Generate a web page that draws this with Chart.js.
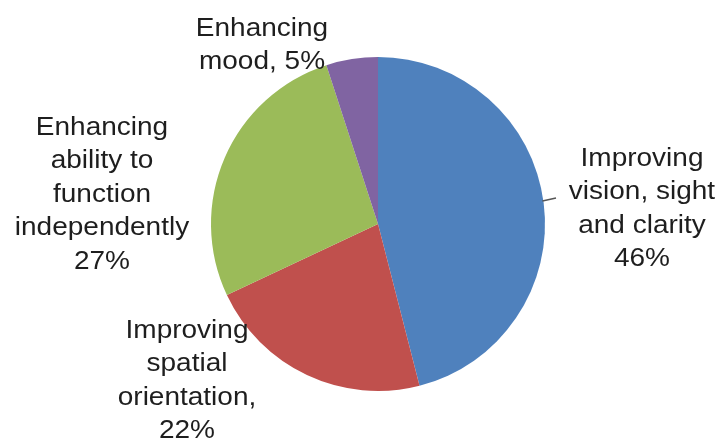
<!DOCTYPE html>
<html>
<head>
<meta charset="utf-8">
<script src="https://cdn.jsdelivr.net/npm/chart.js@4"></script>
<style>
  html, body { margin: 0; padding: 0; background: #fff; }
  #wrap { width: 726px; height: 443px; }
</style>
</head>
<body>
<div id="wrap"><canvas id="pieChart" width="726" height="443"></canvas></div>
<script>
// data
var categories = ["Improving vision, sight and clarity", "Improving spatial orientation", "Enhancing ability to function independently", "Enhancing mood"];
var values = [46, 22, 27, 5];
var colors = ["#4F81BD", "#C0504D", "#9BBB59", "#8064A2"];

// how each label is broken into lines (value gets added after)
var labelWraps = [
    ["Improving", "vision, sight", "and clarity"],
    ["Improving", "spatial", "orientation,"],
    ["Enhancing", "ability to", "function", "independently"],
    ["Enhancing", "mood,"]
];
var valueOnSameLine = [false, false, false, true];

// where the label blocks sit (center x, first line y)
var labelPos = [
    { x: 642, y: 159 },
    { x: 187, y: 331 },
    { x: 102, y: 128 },
    { x: 262, y: 29 }
];

var pieLabels = {
    id: "pieLabels",
    afterDatasetsDraw: function (chart) {
        var ctx = chart.ctx;
        var lineH = 33.5;
        ctx.save();
        ctx.fillStyle = "#1e1e1e";
        ctx.font = "25px 'Liberation Sans', Arial, sans-serif";
        ctx.textAlign = "center";
        ctx.textBaseline = "middle";
        for (var i = 0; i < values.length; i++) {
            var lines = labelWraps[i].slice();
            var pct = values[i] + "%";
            if (valueOnSameLine[i]) {
                lines[lines.length - 1] += " " + pct;
            } else {
                lines.push(pct);
            }
            for (var j = 0; j < lines.length; j++) {
                ctx.save();
                ctx.translate(labelPos[i].x, labelPos[i].y + j * lineH);
                ctx.scale(1.12, 1);
                ctx.fillText(lines[j], 0, 0);
                ctx.restore();
            }
        }
        // short leader line from the blue slice edge to its label
        var arc = chart.getDatasetMeta(0).data[0];
        var sy = 201;
        var dy = sy - arc.y;
        var sx = arc.x + Math.sqrt(arc.outerRadius * arc.outerRadius - dy * dy);
        ctx.strokeStyle = "#555";
        ctx.lineWidth = 1.5;
        ctx.beginPath();
        ctx.moveTo(sx - 1, sy);
        ctx.lineTo(556, 198);
        ctx.stroke();
        ctx.restore();
    }
};

var ctx = document.getElementById("pieChart").getContext("2d");
var pieChart = new Chart(ctx, {
    type: "pie",
    data: {
        labels: categories,
        datasets: [{
            data: values,
            backgroundColor: colors,
            borderWidth: 0
        }]
    },
    options: {
        responsive: false,
        animation: false,
        layout: {
            padding: { left: 211, right: 181, top: 57, bottom: 52 }
        },
        plugins: {
            legend: { display: false },
            tooltip: { enabled: false }
        }
    },
    plugins: [pieLabels]
});
</script>
</body>
</html>
